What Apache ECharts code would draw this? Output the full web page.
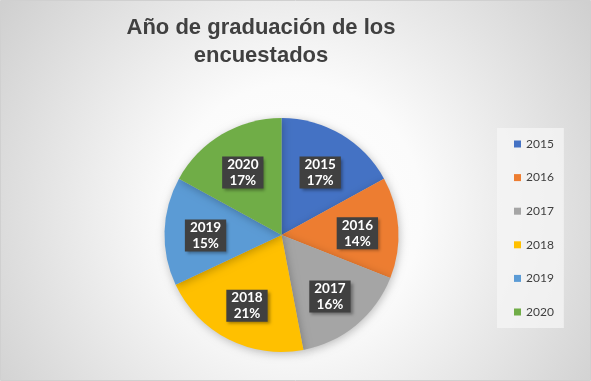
<!DOCTYPE html>
<html>
<head>
<meta charset="utf-8">
<script src="https://cdn.jsdelivr.net/npm/echarts@6/dist/echarts.min.js"></script>
<style>
html,body{margin:0;padding:0;background:#fff;}
#main{width:591px;height:381px;}
</style>
</head>
<body>
<div id="main"></div>
<script>
const titleText = 'Año de graduación de los\nencuestados';
const categories = ['2015', '2016', '2017', '2018', '2019', '2020'];
const percents = [17, 14, 16, 21, 15, 17];
const colors = ['#4472C4', '#ED7D31', '#A5A5A5', '#FFC000', '#5B9BD5', '#70AD47'];

const chart = echarts.init(document.getElementById('main'), null, {renderer: 'canvas'});
const pieData = categories.map((c, i) => ({name: c, value: percents[i], itemStyle: {color: colors[i]}}));
const labelData = categories.map((c, i) => ({name: c, value: percents[i]}));

chart.setOption({
  animation: false,
  graphic: [{
    type: 'rect', z: -10, silent: true,
    shape: {x: 0.5, y: 0.5, width: 590, height: 380},
    style: {
      fill: {type: 'radial', x: 0.5, y: 0.55, r: 0.95, colorStops: [
        {offset: 0, color: '#ffffff'}, {offset: 0.35, color: '#fbfbfb'}, {offset: 1, color: '#cfcfcf'}]},
      stroke: '#d0d0d0', lineWidth: 1
    }
  }],
  title: {
    text: titleText,
    left: 261, top: 14, padding: 0,
    textAlign: 'center',
    textStyle: {fontFamily: 'Liberation Sans', fontWeight: 'bold', fontSize: 22, lineHeight: 28, color: '#404040'}
  },
  legend: {
    orient: 'vertical',
    left: 497, top: 128, width: 68, height: 200,
    padding: [9, 10, 9, 17],
    data: categories,
    icon: 'rect', itemWidth: 7, itemHeight: 7, itemGap: 19.6,
    backgroundColor: 'rgba(246,246,246,0.75)',
    textStyle: {fontFamily: 'Lato', fontSize: 12, color: '#404040', lineHeight: 14}
  },
  series: [{
    type: 'pie',
    center: [281.5, 235], radius: 117,
    startAngle: 90, clockwise: true,
    data: pieData,
    label: {show: false}, labelLine: {show: false},
    itemStyle: {shadowBlur: 8, shadowColor: 'rgba(0,0,0,0.25)', shadowOffsetX: 1, shadowOffsetY: 2},
    emphasis: {disabled: true}
  }, {
    type: 'pie',
    center: [281.5, 238], radius: 146,
    startAngle: 90, clockwise: true,
    silent: true,
    data: labelData,
    itemStyle: {color: 'rgba(0,0,0,0)'},
    labelLine: {show: false},
    label: {
      show: true, position: 'inside',
      formatter: p => p.name + '\n' + p.value + '%',
      backgroundColor: '#404040',
      color: '#ffffff', fontFamily: 'Lato', fontWeight: 'bold', fontSize: 13.5, lineHeight: 16,
      padding: [0, 5],
      shadowBlur: 3, shadowOffsetX: 2, shadowOffsetY: 2, shadowColor: 'rgba(0,0,0,0.35)'
    },
    emphasis: {disabled: true}
  }]
});
</script>
</body>
</html>
